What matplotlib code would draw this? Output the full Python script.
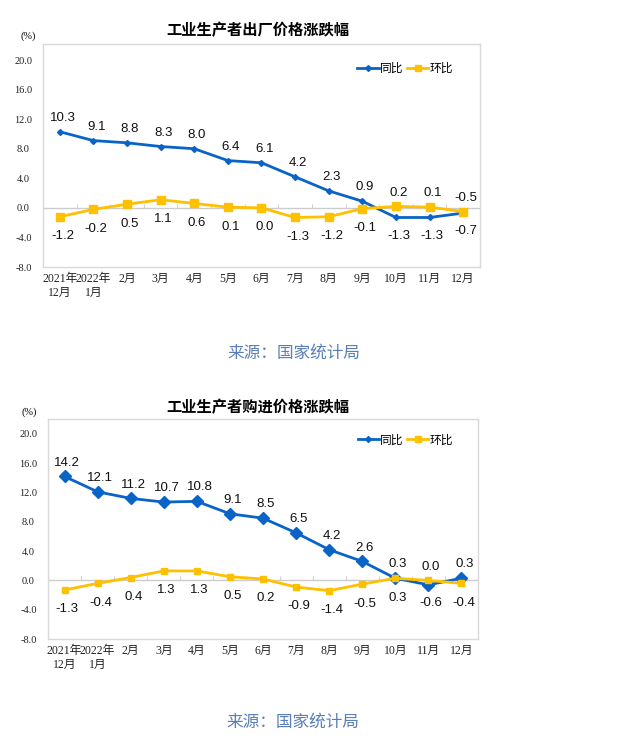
import matplotlib
matplotlib.use("Agg")
import matplotlib.pyplot as plt
from matplotlib.lines import Line2D

months = ["2021年\n12月", "2022年\n1月", "2月", "3月", "4月", "5月", "6月",
          "7月", "8月", "9月", "10月", "11月", "12月"]

ppi_yoy = [10.3, 9.1, 8.8, 8.3, 8.0, 6.4, 6.1, 4.2, 2.3, 0.9, -1.3, -1.3, -0.7]
ppi_mom = [-1.2, -0.2, 0.5, 1.1, 0.6, 0.1, 0.0, -1.3, -1.2, -0.1, 0.2, 0.1, -0.5]
ppi_yoy_pos = ["a"] * 10 + ["b", "b", "b"]
ppi_mom_pos = ["b"] * 10 + ["a", "a", "a"]

pp_yoy = [14.2, 12.1, 11.2, 10.7, 10.8, 9.1, 8.5, 6.5, 4.2, 2.6, 0.3, -0.6, 0.3]
pp_mom = [-1.3, -0.4, 0.4, 1.3, 1.3, 0.5, 0.2, -0.9, -1.4, -0.5, 0.3, 0.0, -0.4]
pp_yoy_pos = ["a"] * 11 + ["b", "a"]
pp_mom_pos = ["b"] * 11 + ["a", "b"]

yticks = [-8, -4, 0, 4, 8, 12, 16, 20]

BLUE = "#0a64c8"
YELLOW = "#ffc000"
SERIF = ["Liberation Serif", "Noto Sans CJK SC"]
SANS = ["Liberation Sans", "Noto Sans CJK SC"]
CJK = ["Noto Sans CJK SC", "DejaVu Sans"]

fig = plt.figure(figsize=(6.21, 7.44), dpi=100)


def draw(rect, title, yoy, mom, yoy_pos, mom_pos, ytop, dsize, ssize, title_y, pct_xy, leg_anchor):
    ax = fig.add_axes(rect)
    x = list(range(len(months)))
    ax.set_xlim(-0.5, len(months) - 0.5)
    ax.set_ylim(-8, ytop)
    for s in ax.spines.values():
        s.set_color("#d9d9d9")
        s.set_linewidth(1.0)
    ax.axhline(0, color="#cccccc", lw=1.0, zorder=1)
    ax.vlines([i + 0.5 for i in range(len(months) - 1)], 0, 0.55,
              color="#d0d0d0", lw=0.8, zorder=1)
    ax.set_yticks(yticks)
    ax.set_yticklabels([f"{v:.1f}" for v in yticks], fontfamily=SERIF, fontsize=7.5)
    ax.set_xticks(x)
    ax.set_xticklabels(months, fontfamily=SERIF, fontsize=8.5, linespacing=1.25)
    ax.tick_params(axis="both", length=0, colors="#222222")
    ax.tick_params(axis="y", pad=14)
    ax.tick_params(axis="x", pad=4)
    for lbl in ax.get_yticklabels():
        lbl.set_horizontalalignment("center")
    ax.plot(x, yoy, color=BLUE, lw=2.0, marker="D", ms=dsize, zorder=3)
    ax.plot(x, mom, color=YELLOW, lw=2.0, marker="s", ms=ssize, zorder=3)
    for xi, v, p in zip(x, yoy, yoy_pos):
        off = 10 if p == "a" else -13
        ax.annotate(f"{v:.1f}", (xi, v), xytext=(2, off), textcoords="offset points",
                    ha="center", va="center", fontsize=9.5, fontfamily=SANS, color="#111111")
    for xi, v, p in zip(x, mom, mom_pos):
        off = 10 if p == "a" else -14
        ax.annotate(f"{v:.1f}", (xi, v), xytext=(2, off), textcoords="offset points",
                    ha="center", va="center", fontsize=9.5, fontfamily=SANS, color="#111111")
    handles = [Line2D([], [], color=BLUE, lw=2.0, marker="D", ms=3),
               Line2D([], [], color=YELLOW, lw=2.0, marker="s", ms=5)]
    ax.legend(handles, ["同比", "环比"], loc="center right", bbox_to_anchor=leg_anchor,
              ncol=2, frameon=False, prop={"family": CJK, "size": 8.5},
              handlelength=1.8, handletextpad=0.1, columnspacing=0.3,
              borderpad=0, borderaxespad=0)
    fig.text(0.415, title_y, title, ha="center", va="center", fontsize=11,
             fontweight="bold", fontfamily=CJK)
    fig.text(pct_xy[0], pct_xy[1], "(%)", ha="center", va="center", fontsize=7.5,
             fontfamily=SERIF)
    return ax


draw([0.0692, 0.6411, 0.7037, 0.2997], "工业生产者出厂价格涨跌幅",
     ppi_yoy, ppi_mom, ppi_yoy_pos, ppi_mom_pos, 22.16, 3.0, 5.5,
     1 - 30 / 744, (28 / 621, 1 - 36 / 744), (0.938, 0.89))
draw([0.0773, 0.1411, 0.6924, 0.2957], "工业生产者购进价格涨跌幅",
     pp_yoy, pp_mom, pp_yoy_pos, pp_mom_pos, 22.04, 6.0, 4.2,
     1 - 407 / 744, (29 / 621, 1 - 412 / 744), (0.942, 0.905))

fig.text(294 / 621, 1 - 353 / 744, "来源：国家统计局", ha="center", va="center",
         fontsize=12, color="#5a7fb8", fontfamily=CJK)
fig.text(293 / 621, 1 - 722 / 744, "来源：国家统计局", ha="center", va="center",
         fontsize=12, color="#5a7fb8", fontfamily=CJK)

fig.savefig("out.png", dpi=100, facecolor="white")
